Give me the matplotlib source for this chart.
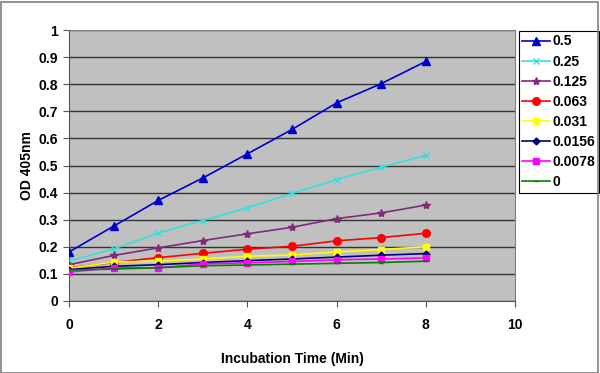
import matplotlib
matplotlib.use("Agg")
import matplotlib.pyplot as plt
from matplotlib.patches import Rectangle

plt.rcParams['font.family'] = ['Liberation Sans', 'DejaVu Sans']

time_min = [0, 1, 2, 3, 4, 5, 6, 7, 8]
series_labels = ["0.5", "0.25", "0.125", "0.063", "0.031", "0.0156", "0.0078", "0"]
s_05 = [0.181, 0.276, 0.371, 0.454, 0.543, 0.633, 0.731, 0.802, 0.884]
s_025 = [0.147, 0.192, 0.251, 0.297, 0.344, 0.397, 0.448, 0.494, 0.537]
s_0125 = [0.134, 0.168, 0.196, 0.223, 0.248, 0.272, 0.304, 0.325, 0.354]
s_0063 = [0.122, 0.142, 0.160, 0.176, 0.191, 0.202, 0.222, 0.234, 0.250]
s_0031 = [0.120, 0.144, 0.147, 0.155, 0.165, 0.170, 0.181, 0.190, 0.200]
s_00156 = [0.116, 0.128, 0.134, 0.142, 0.149, 0.155, 0.162, 0.169, 0.175]
s_00078 = [0.107, 0.122, 0.122, 0.137, 0.141, 0.146, 0.152, 0.155, 0.159]
s_0 = [0.114, 0.118, 0.123, 0.130, 0.133, 0.136, 0.139, 0.142, 0.147]
x_ticks = [0, 2, 4, 6, 8, 10]
y_ticks = [0, 0.1, 0.2, 0.3, 0.4, 0.5, 0.6, 0.7, 0.8, 0.9, 1]
y_tick_labels = ["0", "0.1", "0.2", "0.3", "0.4", "0.5", "0.6", "0.7", "0.8", "0.9", "1"]

all_series = [s_05, s_025, s_0125, s_0063, s_0031, s_00156, s_00078, s_0]
colors = ["#0000CC", "#33E0E0", "#7F2A7F", "#FF0000", "#FFFF00", "#000080", "#FF00FF", "#008000"]
markers = ["^", "x", "*", "o", "s", "D", "s", "_"]
msizes = [5.5, 4, 6, 5.5, 5, 3.5, 5, 3]

fig = plt.figure(figsize=(6.0, 3.73), dpi=100)
fig.patch.set_facecolor("white")
fig.add_artist(Rectangle((0.001, 0.001), 0.996, 0.994, transform=fig.transFigure,
                         fill=False, edgecolor="#808080", linewidth=1.2))

W, H = 600, 373
ax = fig.add_axes([69 / W, 1 - 301 / H, (515 - 69) / W, (301 - 30) / H])
ax.set_facecolor("#C0C0C0")

for ser, lab, c, m, ms in zip(all_series, series_labels, colors, markers, msizes):
    ax.plot(time_min, ser, color=c, marker=m, markersize=ms, linewidth=1.2,
            markerfacecolor=c, markeredgecolor=c, label=lab, zorder=3)

ax.set_xlim(0, 10)
ax.set_ylim(0, 1)
ax.set_xticks(x_ticks)
ax.set_yticks(y_ticks)
ax.set_xticklabels([str(t) for t in x_ticks])
ax.set_yticklabels(y_tick_labels)
ax.yaxis.grid(True, color="#333333", linewidth=1.0)
ax.set_axisbelow(True)
for s in ["top", "right"]:
    ax.spines[s].set_color("#808080")
for s in ["left", "bottom"]:
    ax.spines[s].set_color("#555555")
ax.tick_params(axis="both", direction="out", length=4, color="#555555", labelsize=10)
ax.tick_params(axis="y", pad=4)
ax.tick_params(axis="x", pad=8)
for lbl in ax.get_xticklabels() + ax.get_yticklabels():
    lbl.set_fontweight("bold")

ax.set_xlabel("Incubation Time (Min)", fontsize=10, fontweight="bold", labelpad=15)
ax.set_ylabel("OD 405nm", fontsize=10, fontweight="bold", labelpad=3)

leg = ax.legend(loc="upper left", bbox_to_anchor=(519 / W, 1 - 31 / H, 74 / W, 0),
                bbox_transform=fig.transFigure, frameon=True, fancybox=False,
                edgecolor="black", framealpha=1, borderaxespad=0, handlelength=2.0,
                handletextpad=0.15, borderpad=0.25, labelspacing=0.44,
                prop={"size": 10, "weight": "bold"})
leg.get_frame().set_linewidth(0.8)
leg._legend_box.align = "left"
for t in leg.get_texts():
    pass

fig.canvas.draw()
# shrink horizontal padding only
fr = leg.get_frame()

fig.savefig("out.png", dpi=100, facecolor="white")
